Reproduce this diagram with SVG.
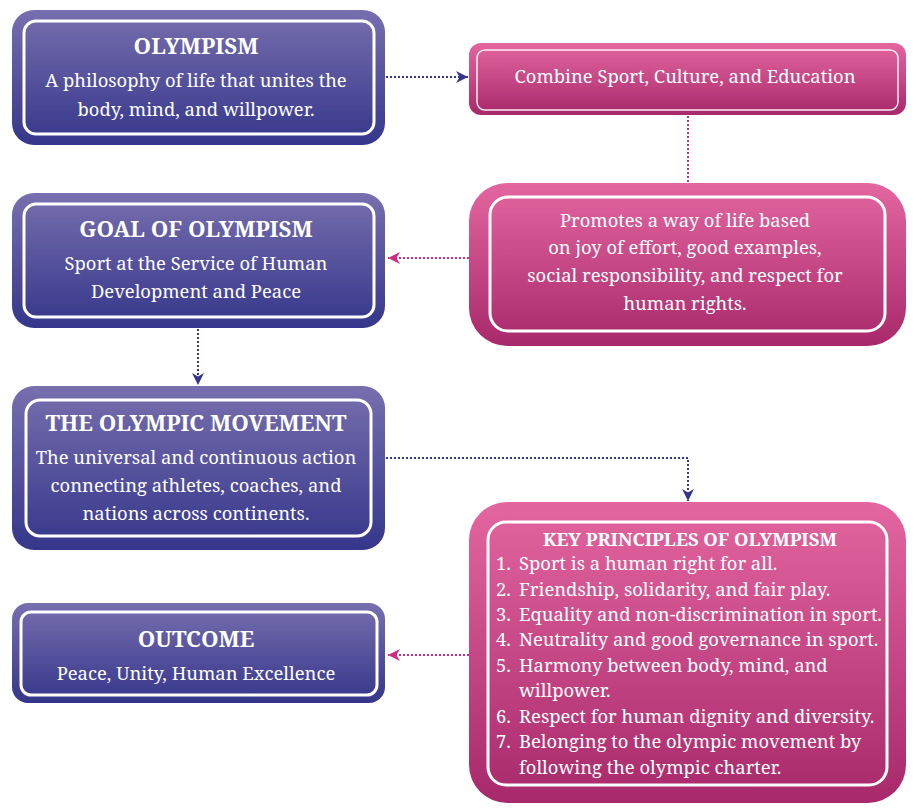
<svg xmlns="http://www.w3.org/2000/svg" width="916" height="811" viewBox="0 0 916 811">
<defs>
<linearGradient id="gb" x1="0" y1="0" x2="0" y2="1">
<stop offset="0" stop-color="#776fae"/>
<stop offset="1" stop-color="#35368b"/>
</linearGradient>
<linearGradient id="gp" x1="0" y1="0" x2="0" y2="1">
<stop offset="0" stop-color="#e366a0"/>
<stop offset="1" stop-color="#a8296b"/>
</linearGradient>
<marker id="an" viewBox="0 0 10 10" refX="10" refY="5" markerWidth="12" markerHeight="12" markerUnits="userSpaceOnUse" orient="auto">
<path d="M0,0 L10,5 L0,10 L3,5 z" fill="#35368b"/>
</marker>
<marker id="ap" viewBox="0 0 10 10" refX="10" refY="5" markerWidth="12" markerHeight="12" markerUnits="userSpaceOnUse" orient="auto">
<path d="M0,0 L10,5 L0,10 L3,5 z" fill="#cc2b86"/>
</marker>
</defs>
<style>
text{font-family:"Noto Serif","DejaVu Serif",serif;fill:#fff;text-anchor:middle}
.t{font-weight:bold;font-size:22.3px}
.b{font-size:18.4px}
.k{font-weight:bold;font-size:18.4px}
.l{font-size:18.4px;text-anchor:start}
.ob{fill:url(#gb)}
.op{fill:url(#gp)}
.in{fill:none;stroke:#fff;stroke-width:3}
.inp{fill:none;stroke:#fff;stroke-width:1.5;opacity:0.9}
.cn{fill:none;stroke:#35368b;stroke-width:2;stroke-dasharray:2 2}
.cp{fill:none;stroke:#cc2b86;stroke-width:2;stroke-dasharray:2 2}
</style>
<g id="connectors">
<path class="cn" d="M386,77 L468,77" marker-end="url(#an)"/>
<path class="cp" d="M688,116 L688,183"/>
<path class="cp" d="M469,258 L388,258" marker-end="url(#ap)"/>
<path class="cn" d="M198,329 L198,385" marker-end="url(#an)"/>
<path class="cn" d="M386,458 L688,458 L688,501" marker-end="url(#an)"/>
<path class="cp" d="M469,655 L388,655" marker-end="url(#ap)"/>
</g>
<g id="olympism">
<rect class="ob" x="12" y="10" width="373" height="135" rx="22"/>
<rect class="in" x="24" y="21" width="350" height="113" rx="12"/>
<text class="t" x="196" y="54">OLYMPISM</text>
<text class="b" x="196" y="87">A philosophy of life that unites the</text>
<text class="b" x="196" y="116">body, mind, and willpower.</text>
</g>
<g id="combine">
<rect class="op" x="469" y="43" width="437" height="72" rx="12"/>
<rect class="inp" x="477" y="50" width="421" height="60" rx="8"/>
<text class="b" x="685" y="83">Combine Sport, Culture, and Education</text>
</g>
<g id="promotes">
<rect class="op" x="469" y="183" width="437" height="163" rx="38"/>
<rect class="in" x="490" y="197" width="395" height="134" rx="18" stroke-width="2"/>
<text class="b" x="685" y="227">Promotes a way of life based</text>
<text class="b" x="685" y="254">on joy of effort, good examples,</text>
<text class="b" x="685" y="282">social responsibility, and respect for</text>
<text class="b" x="685" y="310">human rights.</text>
</g>
<g id="goal">
<rect class="ob" x="12" y="193" width="373" height="135" rx="22"/>
<rect class="in" x="24" y="204" width="350" height="113" rx="12"/>
<text class="t" x="196" y="237">GOAL OF OLYMPISM</text>
<text class="b" x="196" y="270">Sport at the Service of Human</text>
<text class="b" x="196" y="298">Development and Peace</text>
</g>
<g id="movement">
<rect class="ob" x="12" y="386" width="373" height="164" rx="22"/>
<rect class="in" x="26" y="400" width="345" height="136" rx="14"/>
<text class="t" x="196" y="431">THE OLYMPIC MOVEMENT</text>
<text class="b" x="196" y="464">The universal and continuous action</text>
<text class="b" x="196" y="492">connecting athletes, coaches, and</text>
<text class="b" x="196" y="520">nations across continents.</text>
</g>
<g id="principles">
<rect class="op" x="469" y="502" width="437" height="301" rx="38"/>
<rect class="in" x="488" y="522" width="399" height="263" rx="18" stroke-width="2"/>
<text class="k" x="690" y="546">KEY PRINCIPLES OF OLYMPISM</text>
<text class="l" x="496" y="570">1.</text><text class="l" x="519" y="570">Sport is a human right for all.</text>
<text class="l" x="496" y="596">2.</text><text class="l" x="519" y="596">Friendship, solidarity, and fair play.</text>
<text class="l" x="496" y="621">3.</text><text class="l" x="519" y="621">Equality and non-discrimination in sport.</text>
<text class="l" x="496" y="646">4.</text><text class="l" x="519" y="646">Neutrality and good governance in sport.</text>
<text class="l" x="496" y="672">5.</text><text class="l" x="519" y="672">Harmony between body, mind, and</text>
<text class="l" x="519" y="697">willpower.</text>
<text class="l" x="496" y="723">6.</text><text class="l" x="519" y="723">Respect for human dignity and diversity.</text>
<text class="l" x="496" y="748">7.</text><text class="l" x="519" y="748">Belonging to the olympic movement by</text>
<text class="l" x="519" y="774">following the olympic charter.</text>
</g>
<g id="outcome">
<rect class="ob" x="12" y="603" width="373" height="100" rx="16"/>
<rect class="in" x="21" y="612" width="356" height="83" rx="10" stroke-width="2"/>
<text class="t" x="196" y="647">OUTCOME</text>
<text class="b" x="196" y="680">Peace, Unity, Human Excellence</text>
</g>
</svg>
